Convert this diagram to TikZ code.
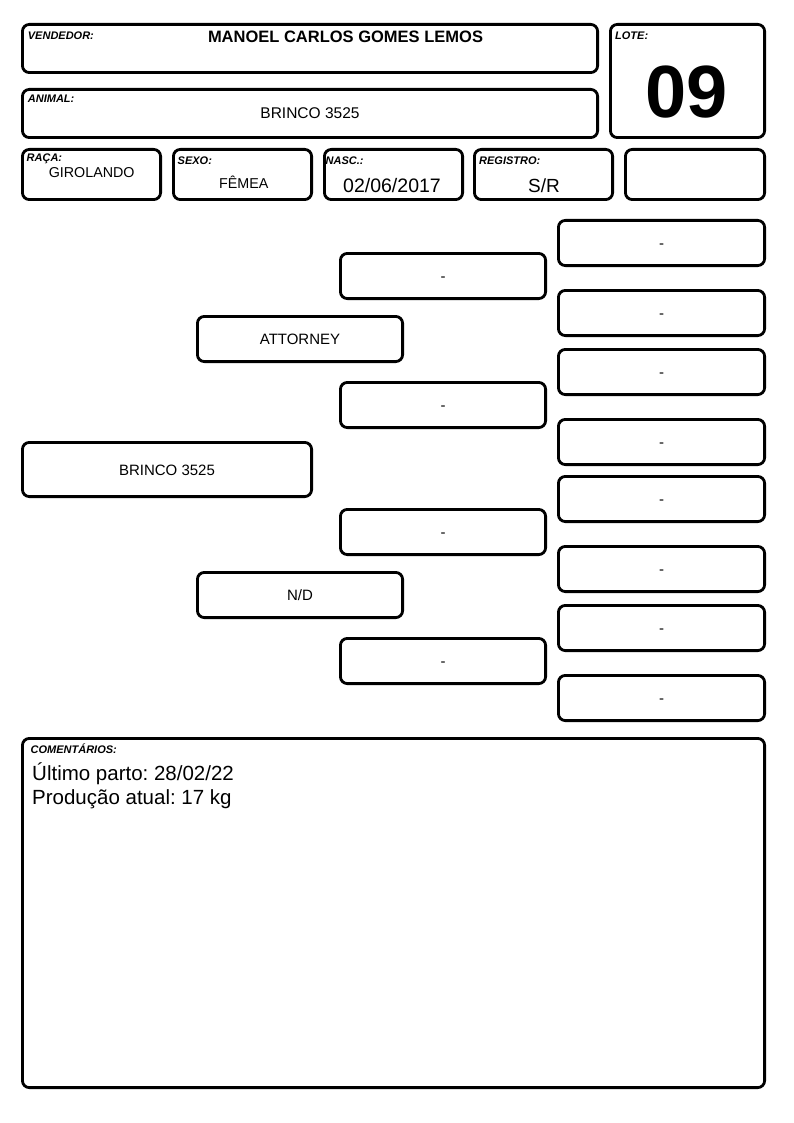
\documentclass[tikz,border=0pt]{standalone}
\usepackage{fontspec}
\setmainfont{Liberation Sans}
\frenchspacing
\begin{document}
\begin{tikzpicture}[x=1pt,y=-1pt,
  box/.style={draw, line width=2.8pt, rounded corners=7pt, inner sep=0pt, outer sep=0pt},
  pbox/.style={box, minimum width=205.2pt, minimum height=45.2pt, font=\fontsize{15}{18}\selectfont, text height=11pt, text depth=0pt},
  lab/.style={font=\fontsize{11}{13}\selectfont\bfseries\itshape, anchor=base west, inner sep=0pt},
  val/.style={anchor=base, inner sep=0pt}]
\useasboundingbox (0,0) rectangle (794,1123);

% header boxes
\node[box, minimum width=575.2pt, minimum height=48.2pt] (vend) at (310,48.5) {};
\node[box, minimum width=575.2pt, minimum height=48.2pt] (animal) at (310,113.5) {};
\node[box, minimum width=154.2pt, minimum height=113.2pt] (lote) at (687.5,81) {};
\node[box, minimum width=138.2pt, minimum height=50.2pt] (raca) at (91.5,174.5) {};
\node[box, minimum width=138.2pt, minimum height=50.2pt] (sexo) at (242.5,174.5) {};
\node[box, minimum width=138.2pt, minimum height=50.2pt] (nasc) at (393.5,174.5) {};
\node[box, minimum width=138.2pt, minimum height=50.2pt] (reg) at (543.5,174.5) {};
\node[box, minimum width=139.2pt, minimum height=50.2pt] (blank) at (695,174.5) {};

% labels
\node[lab] (lvend) at (27.7,39.3) {VENDEDOR:};
\node[lab] (lanimal) at (27.7,102.7) {ANIMAL:};
\node[lab] (llote) at (615,39.3) {LOTE:};
\node[lab] (lraca) at (26.5,161.7) {RAÇA:};
\node[lab] (lsexo) at (177.5,165) {SEXO:};
\node[lab] (lnasc) at (325.5,165) {NASC.:};
\node[lab] (lreg) at (479,165) {REGISTRO:};

% values
\node[val, font=\fontsize{16.5}{19}\selectfont\bfseries] (tvend) at (345.5,43) {MANOEL CARLOS GOMES LEMOS};
\node[val, font=\fontsize{15.5}{18}\selectfont] (tanimal) at (310,119) {BRINCO 3525};
\node[val, font=\fontsize{74}{80}\selectfont\bfseries] (tlote) at (687,118) {09};
\node[val, font=\fontsize{14.3}{17}\selectfont] (traca) at (91.7,178) {GIROLANDO};
\node[val, font=\fontsize{14.3}{17}\selectfont] (tsexo) at (243.7,189) {FÊMEA};
\node[val, font=\fontsize{19.5}{22}\selectfont] (tnasc) at (392,193) {02/06/2017};
\node[val, font=\fontsize{19}{22}\selectfont] (treg) at (544,193) {S/R};

% pedigree
\node[pbox, minimum width=289.2pt, minimum height=54.2pt] (main) at (167,469.5) {BRINCO 3525};
\node[pbox] (sire) at (300,339) {ATTORNEY};
\node[pbox] (dam) at (300,595) {N/D};
\node[pbox] (g1) at (443,276) {-};
\node[pbox] (g2) at (443,405) {-};
\node[pbox] (g3) at (443,532) {-};
\node[pbox] (g4) at (443,661) {-};
\node[pbox, minimum width=206.2pt] (gg1) at (661.5,243) {-};
\node[pbox, minimum width=206.2pt] (gg2) at (661.5,313) {-};
\node[pbox, minimum width=206.2pt] (gg3) at (661.5,372) {-};
\node[pbox, minimum width=206.2pt] (gg4) at (661.5,442) {-};
\node[pbox, minimum width=206.2pt] (gg5) at (661.5,499) {-};
\node[pbox, minimum width=206.2pt] (gg6) at (661.5,569) {-};
\node[pbox, minimum width=206.2pt] (gg7) at (661.5,628) {-};
\node[pbox, minimum width=206.2pt] (gg8) at (661.5,698) {-};

% comments
\node[box, minimum width=742.2pt, minimum height=349.2pt] (com) at (393.5,913) {};
\node[lab] (lcom) at (30.5,753.3) {COMENTÁRIOS:};
\node[anchor=base west, inner sep=0pt, font=\fontsize{20.5}{24}\selectfont] (c1) at (32,780) {Último parto: 28/02/22};
\node[anchor=base west, inner sep=0pt, font=\fontsize{20.5}{24}\selectfont] (c2) at (32,804) {Produção atual: 17 kg};
\end{tikzpicture}
\end{document}
